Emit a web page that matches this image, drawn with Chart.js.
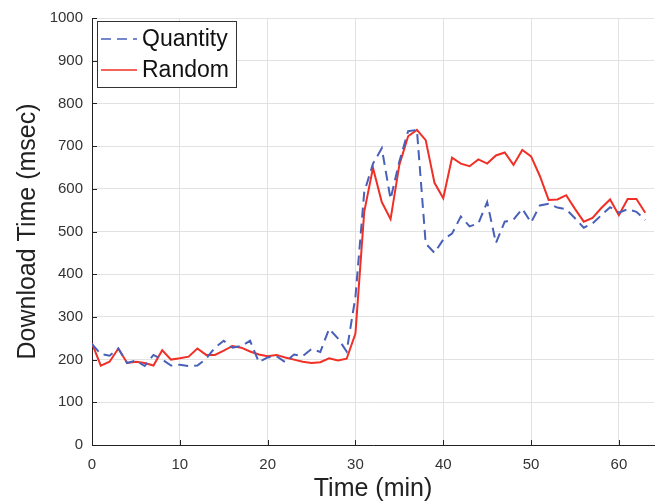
<!DOCTYPE html>
<html>
<head>
<meta charset="utf-8">
<script src="https://cdn.jsdelivr.net/npm/chart.js@4.4.0/dist/chart.umd.min.js"></script>
<style>
  html, body { margin: 0; padding: 0; background: #fff; }
  #wrap { width: 659px; height: 504px; }
</style>
</head>
<body>
<div id="wrap"><canvas id="chart" width="659" height="504"></canvas></div>
<script>
// minutes 0..63
const times = [0,1,2,3,4,5,6,7,8,9,10,11,12,13,14,15,16,17,18,19,20,21,22,23,24,25,26,27,28,29,30,31,
  32,33,34,35,36,37,38,39,40,41,42,43,44,45,46,47,48,49,50,51,52,53,54,55,56,57,58,59,60,61,62,63];

const quantity = [236,213,209,226,192,198,185,211,200,186,188,185,186,202,228,244,228,232,244,194,
  205,208,194,212,208,225,218,272,250,219,347,592,659,695,576,664,735,738,472,450,
  481,495,535,512,519,569,473,523,528,553,521,561,565,556,552,531,509,519,538,557,544,552,546,527];

const random = [238,186,195,226,192,195,192,186,222,200,203,207,226,211,211,221,232,228,219,212,
  208,211,205,200,195,192,194,203,198,202,261,546,649,569,529,656,723,738,714,614,
  578,673,659,653,669,659,678,685,656,691,676,630,574,575,585,553,523,532,555,575,538,576,576,544];

const xTicks = [0,10,20,30,40,50,60];
const yTicks = [0,100,200,300,400,500,600,700,800,900,1000];

const FONT = "'Liberation Sans', Arial, Helvetica, sans-serif";

const toPoints = (ys) => times.map((t, i) => ({ x: t, y: ys[i] }));

// inward tick marks, MATLAB style
const innerTicks = {
  id: 'innerTicks',
  afterDraw(chart) {
    const { ctx, chartArea, scales } = chart;
    ctx.save();
    ctx.strokeStyle = '#222';
    ctx.lineWidth = 1;
    ctx.beginPath();
    xTicks.forEach(v => {
      const px = Math.round(scales.x.getPixelForValue(v)) + 0.5;
      ctx.moveTo(px, chartArea.bottom);
      ctx.lineTo(px, chartArea.bottom - 5);
    });
    yTicks.forEach(v => {
      const py = Math.round(scales.y.getPixelForValue(v)) + 0.5;
      ctx.moveTo(chartArea.left, py);
      ctx.lineTo(chartArea.left + 5, py);
    });
    ctx.stroke();
    ctx.restore();
  }
};

// boxed legend in the top-left corner of the plot
const boxLegend = {
  id: 'boxLegend',
  afterDraw(chart) {
    const { ctx, chartArea } = chart;
    const x0 = chartArea.left + 5, y0 = chartArea.top + 3;
    const w = 139, h = 66;
    ctx.save();
    ctx.fillStyle = '#fff';
    ctx.fillRect(x0, y0, w, h);
    ctx.strokeStyle = '#333';
    ctx.lineWidth = 1;
    ctx.strokeRect(x0 + 0.5, y0 + 0.5, w, h);
    ctx.font = '23px ' + FONT;
    ctx.textBaseline = 'middle';
    chart.data.datasets.forEach((ds, i) => {
      const cy = y0 + 18 + i * 31;
      ctx.strokeStyle = ds.borderColor;
      ctx.lineWidth = 1.5;
      ctx.setLineDash(ds.borderDash || []);
      ctx.beginPath();
      ctx.moveTo(x0 + 4, cy);
      ctx.lineTo(x0 + 40, cy);
      ctx.stroke();
      ctx.setLineDash([]);
      ctx.fillStyle = '#111';
      ctx.fillText(ds.label, x0 + 45, cy + 1);
    });
    ctx.restore();
  }
};

new Chart(document.getElementById('chart'), {
  type: 'line',
  data: {
    datasets: [
      {
        label: 'Quantity',
        data: toPoints(quantity),
        borderColor: 'rgb(72, 96, 186)',
        borderWidth: 2,
        borderDash: [10, 6],
        pointRadius: 0,
        tension: 0,
        fill: false
      },
      {
        label: 'Random',
        data: toPoints(random),
        borderColor: 'rgb(240, 48, 38)',
        borderWidth: 2,
        pointRadius: 0,
        tension: 0,
        fill: false
      }
    ]
  },
  options: {
    responsive: false,
    animation: false,
    layout: { padding: { top: 10, right: 5, left: 0, bottom: 0 } },
    plugins: {
      legend: { display: false },
      tooltip: { enabled: false }
    },
    scales: {
      x: {
        type: 'linear',
        min: 0,
        max: 64,
        afterBuildTicks: (scale) => {
          scale.ticks = xTicks.map(v => ({ value: v }));
        },
        afterFit: (scale) => { scale.height = 59; },
        ticks: {
          font: { family: FONT, size: 15 },
          color: '#333',
          padding: 11,
          maxRotation: 0,
          callback: (v) => String(v)
        },
        grid: { color: '#e2e2e2', drawTicks: false },
        border: { color: '#222', width: 1 },
        title: {
          display: true,
          text: 'Time (min)',
          font: { family: FONT, size: 25 },
          color: '#222',
          padding: { top: 0, bottom: 0 }
        }
      },
      y: {
        min: 0,
        max: 1000,
        afterBuildTicks: (scale) => {
          scale.ticks = yTicks.map(v => ({ value: v }));
        },
        afterFit: (scale) => { scale.width = 92; },
        ticks: {
          font: { family: FONT, size: 15 },
          color: '#333',
          padding: 9,
          callback: (v) => String(v)
        },
        grid: { color: '#e2e2e2', drawTicks: false },
        border: { color: '#222', width: 1 },
        title: {
          display: true,
          text: 'Download Time (msec)',
          font: { family: FONT, size: 25 },
          color: '#222',
          padding: { top: 13, bottom: 0 }
        }
      }
    }
  },
  plugins: [innerTicks, boxLegend]
});
</script>
</body>
</html>
